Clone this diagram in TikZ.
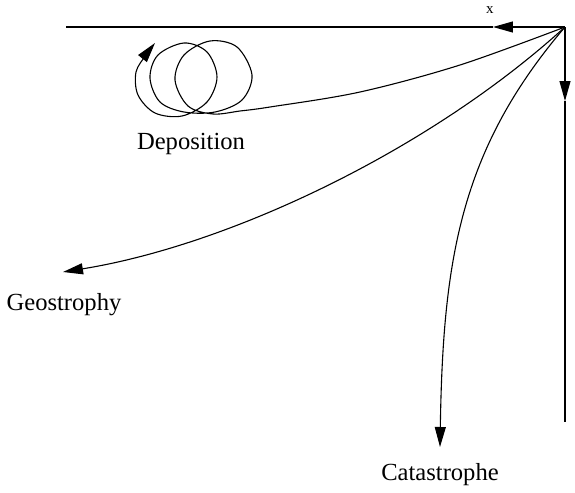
\documentclass[tikz,border=0pt]{standalone}
\usepackage{fontspec}
\setmainfont{Liberation Serif}
\usetikzlibrary{arrows.meta}
\tikzset{
  curve/.style={line width=0.55pt, black},
  tip/.style={-{Triangle[length=10pt,width=5.5pt]}},
  lbl/.style={font=\fontsize{12.3}{14}\selectfont, anchor=base, inner sep=0pt},
}
\begin{document}
\begin{tikzpicture}[x=0.5pt,y=-0.5pt]
\useasboundingbox (0,0) rectangle (575,493);
\coordinate (O) at (565,27);
\coordinate (hend) at (66,27);
\coordinate (harr) at (493,27);
\coordinate (vend) at (565,422);
\coordinate (varr) at (565,101);
\coordinate (geo) at (63,272);
\coordinate (cat) at (440,447);
% axes
\draw[curve, tip] (O) -- (harr);
\draw[curve] (harr) -- (hend);
\draw[curve, tip] (O) -- (varr);
\draw[curve] (varr) -- (vend);
\node[lbl, font=\fontsize{7.5}{8}\selectfont] (xl) at (490,13) {x};
% deposition curve with loops
\draw[curve, tip] plot[smooth, tension=0.55] coordinates {
 (565,27) (460,65) (360,92) (270,107) (240,111) (213,114)
 (188,106) (175,80) (184,55) (210,41) (237,47) (252,75) (242,100) (215,112)
 (184,112) (160,102) (150,78) (158,55) (184,43) (207,52) (217,77) (207,102)
 (182,116) (155,113) (138,95) (136,72) (146,55) (155,43)};
% geostrophy
\draw[curve, tip] (O) .. controls (430,150) and (230,245) .. (geo);
% catastrophe
\draw[curve, tip] (O) .. controls (460,150) and (443,260) .. (cat);
\node[lbl] (dep) at (191,149) {Deposition};
\node[lbl] (geol) at (64,310) {Geostrophy};
\node[lbl] (catl) at (440,480) {Catastrophe};
\end{tikzpicture}
\end{document}
